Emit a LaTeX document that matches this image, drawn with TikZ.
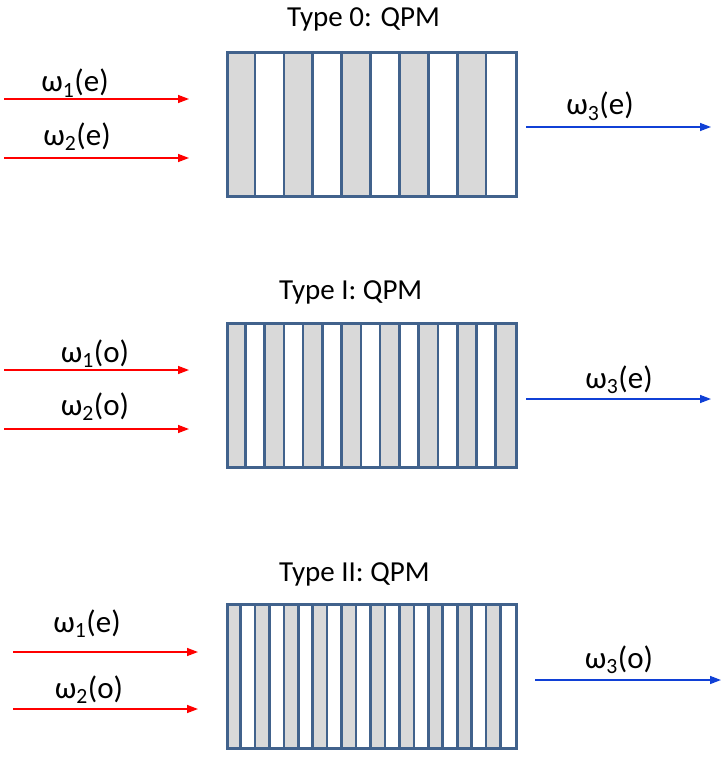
\documentclass[tikz,border=0pt]{standalone}
\usepackage{fontspec}
\setmainfont{Carlito}
\usetikzlibrary{positioning, arrows.meta, calc, backgrounds}
\definecolor{qpmframe}{RGB}{65,98,140}
\definecolor{qpmgray}{RGB}{217,217,217}
\definecolor{beamred}{RGB}{255,0,0}
\definecolor{beamblue}{RGB}{16,64,214}

\begin{document}
\begin{tikzpicture}[
    x=1pt, y=-1pt,
    >={Triangle[length=11pt,width=8pt]},
    crystal/.style={draw=qpmframe, line width=2.6pt, rectangle, anchor=north west,
        minimum width=289pt, minimum height=144pt, inner sep=0pt},
    wall/.style={draw=qpmframe, line width=2.6pt},
    pump/.style={->, beamred, line width=1.4pt},
    signal/.style={->, beamblue, line width=1.4pt},
    title/.style={font=\fontsize{29}{34}\selectfont, anchor=base west, inner sep=0pt},
    beam/.style={font=\fontsize{31}{36}\selectfont, anchor=base, inner sep=0pt}
]
\useasboundingbox (0,0) rectangle (726,757);

% Type 0
\node[title] (t0) at (287,27) {Type 0: QPM};
\node[crystal] (qpm0) at (226,51) {};
\begin{scope}[on background layer]
\foreach \i in {0,2,...,8}
    \fill[qpmgray] ($(qpm0.north west)+(\i*28.9,0)$) rectangle ++(28.9,144);
\end{scope}
\foreach \i in {1,...,9}
    \draw[wall] ($(qpm0.north west)+(\i*28.9,0)$) -- ($(qpm0.south west)+(\i*28.9,0)$);

\coordinate (a0s) at (4,99);    \coordinate (a0e) at (189,99);
\coordinate (b0s) at (4,158);   \coordinate (b0e) at (189,158);
\coordinate (c0s) at (526,127); \coordinate (c0e) at (711,127);
\draw[pump] (a0s) -- (a0e);
\draw[pump] (b0s) -- (b0e);
\draw[signal] (c0s) -- (c0e);
\node[beam] (w10) at (75,92) {ω\textsubscript{1}(e)};
\node[beam] (w20) at (77,145) {ω\textsubscript{2}(e)};
\node[beam] (w30) at (600,115) {ω\textsubscript{3}(e)};

% Type I
\node[title] (t1) at (279,299) {Type I: QPM};
\node[crystal] (qpm1) at (226,322) {};
\begin{scope}[on background layer]
\foreach \i in {0,2,...,14}
    \fill[qpmgray] ($(qpm1.north west)+(\i*19.267,0)$) rectangle ++(19.267,144);
\end{scope}
\foreach \i in {1,...,14}
    \draw[wall] ($(qpm1.north west)+(\i*19.267,0)$) -- ($(qpm1.south west)+(\i*19.267,0)$);

\coordinate (a1s) at (4,370);   \coordinate (a1e) at (189,370);
\coordinate (b1s) at (4,429);   \coordinate (b1e) at (189,429);
\coordinate (c1s) at (526,399); \coordinate (c1e) at (711,399);
\draw[pump] (a1s) -- (a1e);
\draw[pump] (b1s) -- (b1e);
\draw[signal] (c1s) -- (c1e);
\node[beam] (w11) at (95,362) {ω\textsubscript{1}(o)};
\node[beam] (w21) at (95,415) {ω\textsubscript{2}(o)};
\node[beam] (w31) at (619,388) {ω\textsubscript{3}(e)};

% Type II
\node[title] (t2) at (279,581) {Type II: QPM};
\node[crystal] (qpm2) at (226,603) {};
\begin{scope}[on background layer]
\foreach \i in {0,2,...,18}
    \fill[qpmgray] ($(qpm2.north west)+(\i*14.45,0)$) rectangle ++(14.45,144);
\end{scope}
\foreach \i in {1,...,19}
    \draw[wall] ($(qpm2.north west)+(\i*14.45,0)$) -- ($(qpm2.south west)+(\i*14.45,0)$);

\coordinate (a2s) at (13,652);  \coordinate (a2e) at (198,652);
\coordinate (b2s) at (13,709);  \coordinate (b2e) at (198,709);
\coordinate (c2s) at (535,680); \coordinate (c2e) at (721,680);
\draw[pump] (a2s) -- (a2e);
\draw[pump] (b2s) -- (b2e);
\draw[signal] (c2s) -- (c2e);
\node[beam] (w12) at (87,632) {ω\textsubscript{1}(e)};
\node[beam] (w22) at (89,698) {ω\textsubscript{2}(o)};
\node[beam] (w32) at (619,668) {ω\textsubscript{3}(o)};

\end{tikzpicture}
\end{document}
